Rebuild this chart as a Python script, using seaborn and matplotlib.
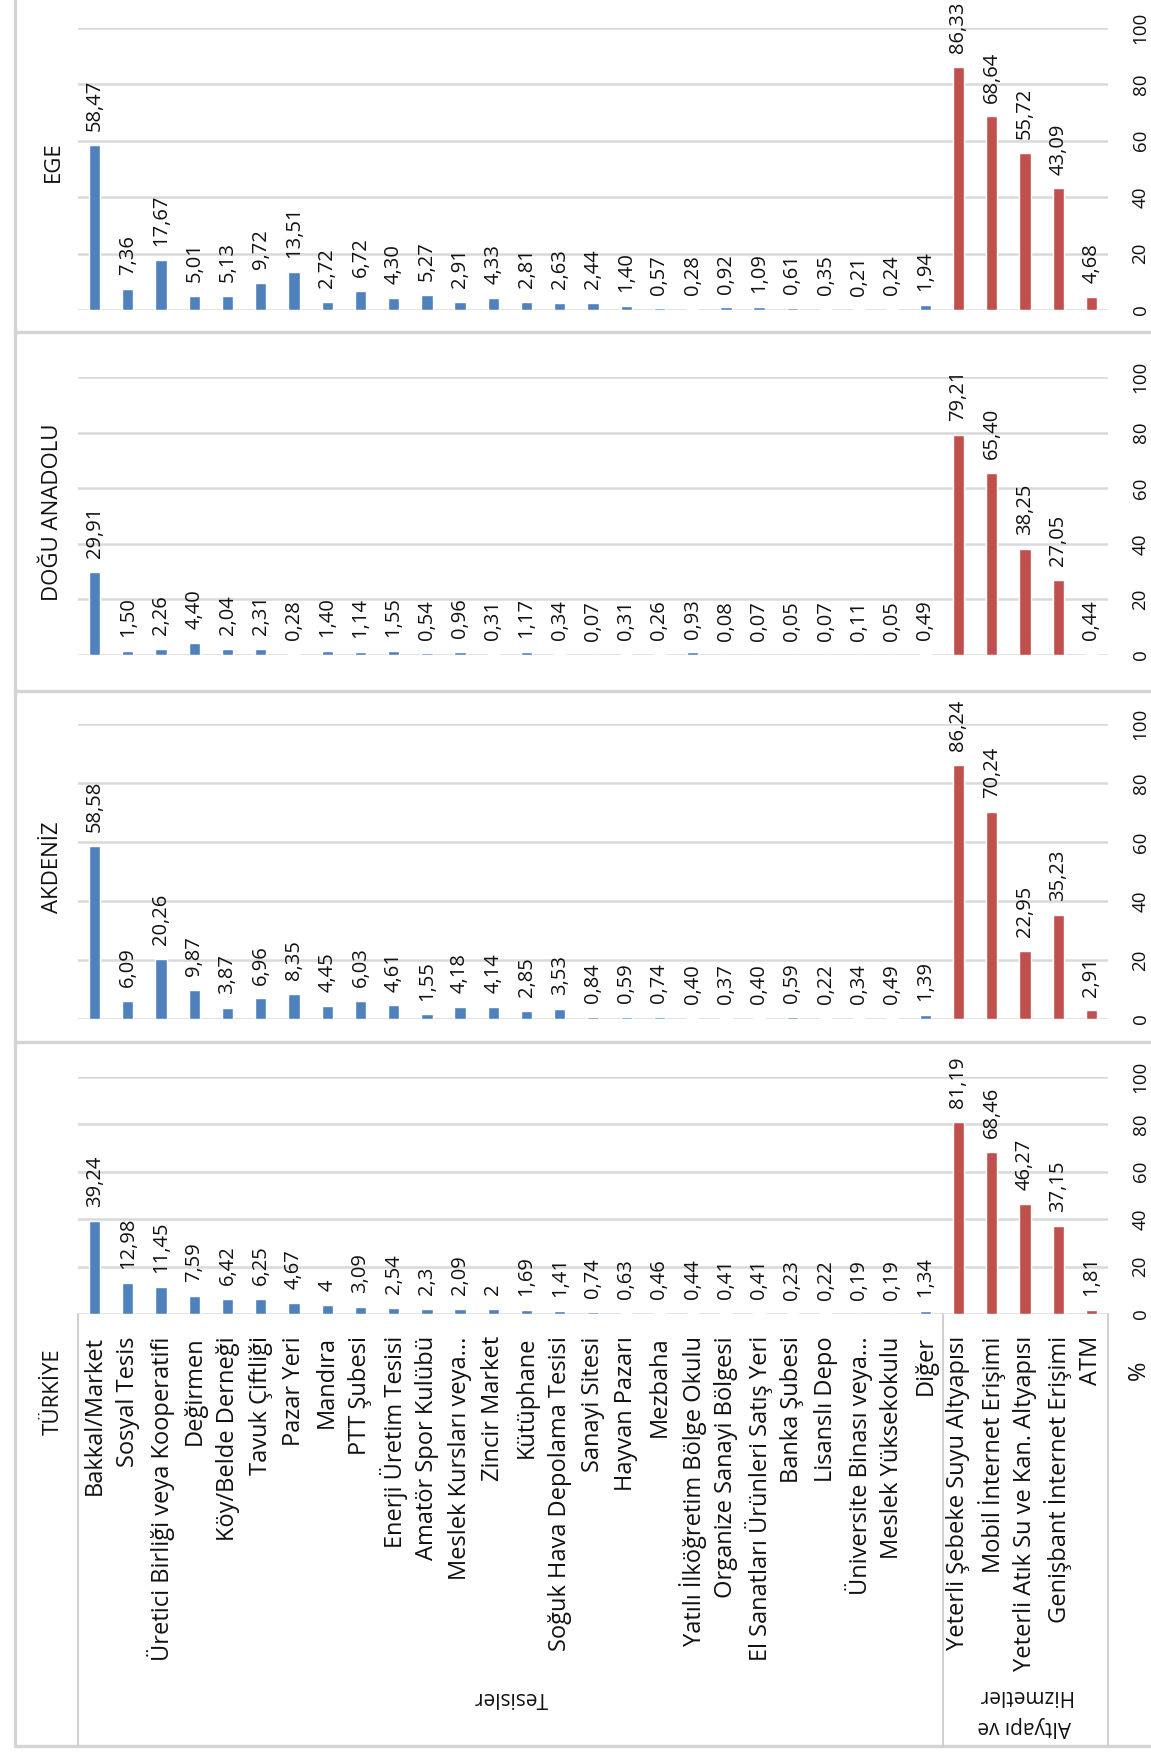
import matplotlib
matplotlib.use("Agg")
import matplotlib.pyplot as plt
import seaborn as sns
import pandas as pd
from matplotlib.lines import Line2D

# ---------------- data ----------------
tesisler = [
    "Bakkal/Market", "Sosyal Tesis", "Üretici Birliği veya Kooperatifi", "Değirmen",
    "Köy/Belde Derneği", "Tavuk Çiftliği", "Pazar Yeri", "Mandıra", "PTT Şubesi",
    "Enerji Üretim Tesisi", "Amatör Spor Kulübü", "Meslek Kursları veya...",
    "Zincir Market", "Kütüphane", "Soğuk Hava Depolama Tesisi", "Sanayi Sitesi",
    "Hayvan Pazarı", "Mezbaha", "Yatılı İlköğretim Bölge Okulu", "Organize Sanayi Bölgesi",
    "El Sanatları Ürünleri Satış Yeri", "Banka Şubesi", "Lisanslı Depo",
    "Üniversite Binası veya...", "Meslek Yüksekokulu", "Diğer",
]
altyapi = [
    "Yeterli Şebeke Suyu Altyapısı", "Mobil İnternet Erişimi",
    "Yeterli Atık Su ve Kan. Altyapısı", "Genişbant İnternet Erişimi", "ATM",
]
categories = tesisler + altyapi
groups = ["Tesisler"] * len(tesisler) + ["Altyapı ve Hizmetler"] * len(altyapi)

ege = [58.47, 7.36, 17.67, 5.01, 5.13, 9.72, 13.51, 2.72, 6.72, 4.30, 5.27, 2.91, 4.33,
       2.81, 2.63, 2.44, 1.40, 0.57, 0.28, 0.92, 1.09, 0.61, 0.35, 0.21, 0.24, 1.94,
       86.33, 68.64, 55.72, 43.09, 4.68]
dogu = [29.91, 1.50, 2.26, 4.40, 2.04, 2.31, 0.28, 1.40, 1.14, 1.55, 0.54, 0.96, 0.31,
        1.17, 0.34, 0.07, 0.31, 0.26, 0.93, 0.08, 0.07, 0.05, 0.07, 0.11, 0.05, 0.49,
        79.21, 65.40, 38.25, 27.05, 0.44]
akdeniz = [58.58, 6.09, 20.26, 9.87, 3.87, 6.96, 8.35, 4.45, 6.03, 4.61, 1.55, 4.18, 4.14,
           2.85, 3.53, 0.84, 0.59, 0.74, 0.40, 0.37, 0.40, 0.59, 0.22, 0.34, 0.49, 1.39,
           86.24, 70.24, 22.95, 35.23, 2.91]
turkiye = [39.24, 12.98, 11.45, 7.59, 6.42, 6.25, 4.67, 4, 3.09, 2.54, 2.3, 2.09, 2,
           1.69, 1.41, 0.74, 0.63, 0.46, 0.44, 0.41, 0.41, 0.23, 0.22, 0.19, 0.19, 1.34,
           81.19, 68.46, 46.27, 37.15, 1.81]
yticks = [0, 20, 40, 60, 80, 100]

# ---------------- style ----------------
sns.set_style("white")
plt.rcParams["font.family"] = ["Open Sans", "DejaVu Sans"]
TXT = "#111111"
GRID = "#d9d9d9"
palette = {"Tesisler": "#4F81BD", "Altyapı ve Hizmetler": "#C0504D"}

W, H = 1151, 1752
fig = plt.figure(figsize=(W / 100, H / 100), dpi=100)
fig.patch.set_facecolor("white")

# overlay in pixel coordinates for frame / table / titles
ov = fig.add_axes([0, 0, 1, 1], zorder=0)
ov.set_xlim(0, W)
ov.set_ylim(H, 0)
ov.axis("off")

X0, X1 = 78, 1108


def fmt2(v):
    return f"{v:.2f}".replace(".", ",")


def fmtg(v):
    return f"{v:g}".replace(".", ",")


panels = [
    ("EGE", ege, fmt2, 28, 310, 162),
    ("DOĞU ANADOLU", dogu, fmt2, 377, 655, 512),
    ("AKDENİZ", akdeniz, fmt2, 724, 1019, 867),
    ("TÜRKİYE", turkiye, fmtg, 1077, 1314, 1392),
]

for k, (title, vals, fmt, y100, y0, ty) in enumerate(panels):
    ax = fig.add_axes([X0 / W, 1 - y0 / H, (X1 - X0) / W, (y0 - y100) / H], zorder=2)
    ax.patch.set_alpha(0)
    df = pd.DataFrame({"cat": categories, "val": vals, "grp": groups})
    sns.barplot(data=df, x="cat", y="val", hue="grp", order=categories,
                palette=palette, dodge=False, width=0.34, legend=False,
                saturation=1, ax=ax, zorder=3)
    ax.set_xlim(-0.5, len(categories) - 0.5)
    ax.set_ylim(0, 100)
    ax.set_yticks(yticks)
    ax.yaxis.tick_right()
    ax.tick_params(axis="y", length=0, pad=17, labelsize=13.5, labelcolor=TXT,
                   labelrotation=90)
    for lab in ax.get_yticklabels():
        lab.set_va("center")
    ax.grid(axis="y", color=GRID, lw=1.8, zorder=0)
    ax.set_axisbelow(True)
    for s in ax.spines.values():
        s.set_visible(False)
    ax.set_xlabel("")
    ax.set_ylabel("")
    for i, v in enumerate(vals):
        ax.annotate(fmt(v), (i, v), xytext=(0, 10), textcoords="offset points",
                    rotation=90, ha="center", va="bottom", fontsize=14.5,
                    color=TXT, annotation_clip=False)
    if k == len(panels) - 1:
        ax.tick_params(axis="x", length=0, pad=16, labelsize=17, labelcolor=TXT,
                       labelrotation=90)
    else:
        ax.set_xticks(range(len(categories)))
        ax.set_xticklabels([])
        ax.tick_params(axis="x", length=0)
    ov.text(53, ty, title, rotation=90, ha="center", va="center",
            fontsize=16, color=TXT)

# outer frame and panel separators
FR = "#d4d4d4"
ov.add_line(Line2D([15, 15], [0, 1746], color=FR, lw=2.4))
for yy in [332, 691, 1042, 1746]:
    ov.add_line(Line2D([15, W], [yy, yy], color=FR, lw=2.4))

# category table
TB = "#cfcfcf"
for xx in [X0, 943, X1]:
    ov.add_line(Line2D([xx, xx], [1314, 1746], color=TB, lw=1.4))

ov.text(511, 1697, "Tesisler", rotation=180, ha="center", va="center",
        fontsize=15, color=TXT)
ov.text(1024, 1696, "Hizmetler", rotation=180, ha="center", va="center",
        fontsize=15, color=TXT)
ov.text(1024, 1726, "Altyapı ve", rotation=180, ha="center", va="center",
        fontsize=15, color=TXT)
ov.text(1139, 1370, "%", rotation=90, ha="center", va="center",
        fontsize=17, color=TXT)

fig.savefig("out.png", dpi=100, facecolor="white")
